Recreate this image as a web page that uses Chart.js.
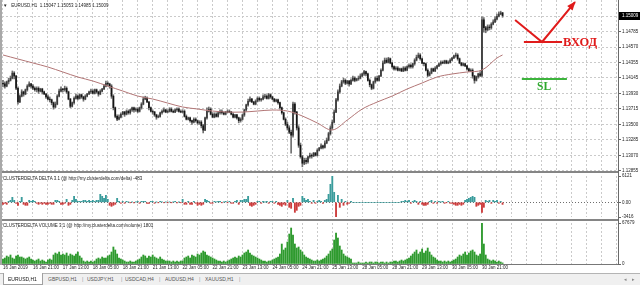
<!DOCTYPE html>
<html><head><meta charset="utf-8">
<script src="https://cdn.jsdelivr.net/npm/chart.js@4.4.1/dist/chart.umd.min.js"></script>
<style>
html,body{margin:0;padding:0;background:#fff}
body{width:640px;height:285px;position:relative;overflow:hidden;font-family:"Liberation Sans",Arial,sans-serif}
canvas{position:absolute;left:0}
.sm{position:absolute;white-space:nowrap;font-size:9px;line-height:9px;color:#222;transform:scale(0.5);transform-origin:0 0}
.sep{position:absolute;left:0;width:618px;height:2px;background:#858585}
#vline{position:absolute;left:618px;top:0;width:1px;height:265px;background:#6a6a6a}
#lline{position:absolute;left:0;top:0;width:2px;height:265px;background:#a8a8a8}
#tabs{position:absolute;left:0;top:273px;width:640px;height:12px;background:#f0f0f0;border-top:1px solid #b4b4b4;box-sizing:border-box}
#active{position:absolute;left:3px;top:273px;width:40px;height:12px;background:#fff;border:1px solid #a0a0a0;border-top:none;box-sizing:border-box}
.tab{position:absolute;top:277px;white-space:nowrap;font-size:10px;line-height:10px;color:#555;transform:scale(0.5);transform-origin:0 0}
</style></head><body>
<canvas id="cMain" width="640" height="172" style="top:0"></canvas>
<canvas id="cDelta" width="640" height="48" style="top:172px"></canvas>
<canvas id="cVol" width="640" height="53" style="top:220px"></canvas>
<div class="sep" style="top:171px"></div>
<div class="sep" style="top:219px"></div>
<div id="vline"></div>
<div id="lline"></div>
<div class="sm" style="left:3px;top:3px">▼&nbsp;&nbsp;&nbsp;EURUSD,H1&nbsp;&nbsp;1.15047 1.15053 1.14985 1.15009</div>
<div class="sm" id="lblDelta" style="left:3px;top:175.5px"></div>
<div class="sm" id="lblVol" style="left:3px;top:222.8px"></div>
<div id="tabs"></div>
<div id="active"></div>
<div id="tabText"></div>
<script>
// ---------- DATA ----------
const timeLabels = ['16 Jan 2019','16 Jan 21:00','17 Jan 13:00','18 Jan 05:00','18 Jan 21:00','21 Jan 13:00','22 Jan 05:00','22 Jan 21:00','23 Jan 13:00','24 Jan 05:00','24 Jan 21:00','25 Jan 13:00','28 Jan 05:00','28 Jan 21:00','29 Jan 13:00','30 Jan 05:00','30 Jan 21:00'];
const priceTicks = [1.12855,1.13070,1.13285,1.13500,1.13715,1.13930,1.14145,1.14355,1.14570,1.14785,1.15000];
const tabNames = ['EURUSD,H1','GBPUSD,H1','USDJPY,H1','USDCAD,H4','AUDUSD,H4','XAUUSD,H1'];

const opens = [
1.1407,1.1406,1.1403,1.1409,1.1411,1.1414,1.1421,1.1417,1.1400,1.1381,1.1389,1.1395,1.1392,1.1398,1.1403,1.1406,
1.1403,1.1400,1.1398,1.1400,1.1396,1.1399,1.1395,1.1392,1.1388,1.1385,1.1384,1.1380,1.1374,1.1378,1.1389,1.1396,
1.1399,1.1398,1.1400,1.1395,1.1385,1.1375,1.1380,1.1386,1.1389,1.1386,1.1391,1.1388,1.1385,1.1389,1.1392,1.1395,
1.1396,1.1393,1.1398,1.1395,1.1392,1.1396,1.1399,1.1403,1.1407,1.1406,1.1403,1.1389,1.1373,1.1361,1.1357,1.1360,
1.1364,1.1367,1.1364,1.1368,1.1366,1.1370,1.1373,1.1370,1.1371,1.1368,1.1373,1.1378,1.1385,1.1386,1.1381,1.1373,
1.1368,1.1367,1.1363,1.1360,1.1361,1.1366,1.1368,1.1370,1.1367,1.1368,1.1371,1.1368,1.1367,1.1370,1.1371,1.1368,
1.1367,1.1368,1.1361,1.1357,1.1359,1.1355,1.1353,1.1357,1.1355,1.1352,1.1353,1.1348,1.1342,1.1359,1.1368,1.1371,
1.1364,1.1360,1.1364,1.1361,1.1366,1.1368,1.1366,1.1364,1.1367,1.1368,1.1367,1.1364,1.1360,1.1363,1.1359,1.1355,
1.1357,1.1363,1.1370,1.1377,1.1382,1.1385,1.1381,1.1378,1.1382,1.1386,1.1384,1.1385,1.1388,1.1389,1.1386,1.1391,
1.1388,1.1385,1.1382,1.1384,1.1380,1.1373,1.1366,1.1357,1.1350,1.1345,1.1339,1.1335,1.1378,1.1367,1.1345,1.1321,
1.1305,1.1296,1.1300,1.1298,1.1305,1.1307,1.1306,1.1310,1.1307,1.1314,1.1317,1.1320,1.1318,1.1324,1.1328,1.1337,
1.1345,1.1353,1.1367,1.1384,1.1395,1.1403,1.1409,1.1411,1.1407,1.1410,1.1406,1.1411,1.1414,1.1411,1.1413,1.1414,
1.1417,1.1420,1.1423,1.1420,1.1411,1.1405,1.1400,1.1409,1.1414,1.1411,1.1417,1.1425,1.1435,1.1439,1.1436,1.1441,
1.1435,1.1430,1.1427,1.1428,1.1425,1.1427,1.1424,1.1428,1.1425,1.1430,1.1432,1.1430,1.1434,1.1439,1.1443,1.1446,
1.1441,1.1435,1.1434,1.1425,1.1418,1.1421,1.1427,1.1424,1.1428,1.1431,1.1434,1.1436,1.1435,1.1438,1.1435,1.1436,
1.1439,1.1442,1.1445,1.1446,1.1441,1.1435,1.1432,1.1434,1.1431,1.1427,1.1424,1.1425,1.1417,1.1411,1.1416,1.1420,
1.1418,1.1495,1.1484,1.1481,1.1485,1.1484,1.1489,1.1492,1.1496,1.1500,1.1503,1.15047];
const highs = [
1.1411,1.1409,1.1410,1.1414,1.1417,1.1424,1.1423,1.1418,1.1402,1.1391,1.1398,1.1396,1.1399,1.1405,1.1409,1.1407,
1.1405,1.1402,1.1402,1.1402,1.1400,1.1400,1.1396,1.1393,1.1391,1.1388,1.1385,1.1381,1.1381,1.1391,1.1399,1.1402,
1.1400,1.1403,1.1402,1.1396,1.1386,1.1381,1.1388,1.1392,1.1391,1.1392,1.1392,1.1389,1.1391,1.1393,1.1396,1.1399,
1.1398,1.1399,1.1399,1.1396,1.1398,1.1400,1.1405,1.1410,1.1409,1.1407,1.1405,1.1391,1.1374,1.1363,1.1363,1.1366,
1.1368,1.1368,1.1370,1.1370,1.1371,1.1374,1.1374,1.1373,1.1373,1.1374,1.1380,1.1388,1.1389,1.1388,1.1382,1.1374,
1.1370,1.1368,1.1364,1.1363,1.1367,1.1370,1.1373,1.1371,1.1370,1.1373,1.1373,1.1370,1.1371,1.1373,1.1373,1.1370,
1.1370,1.1370,1.1363,1.1360,1.1360,1.1356,1.1359,1.1359,1.1356,1.1355,1.1355,1.1350,1.1360,1.1373,1.1374,1.1373,
1.1366,1.1366,1.1366,1.1367,1.1370,1.1370,1.1367,1.1368,1.1370,1.1370,1.1368,1.1366,1.1364,1.1364,1.1360,1.1359,
1.1364,1.1371,1.1378,1.1385,1.1388,1.1386,1.1382,1.1384,1.1388,1.1388,1.1386,1.1391,1.1392,1.1391,1.1393,1.1392,
1.1389,1.1386,1.1385,1.1385,1.1381,1.1374,1.1367,1.1359,1.1353,1.1348,1.1342,1.1381,1.1380,1.1368,1.1348,1.1324,
1.1307,1.1303,1.1303,1.1306,1.1310,1.1309,1.1311,1.1311,1.1316,1.1318,1.1323,1.1321,1.1327,1.1331,1.1339,1.1348,
1.1356,1.1370,1.1386,1.1398,1.1406,1.1411,1.1414,1.1413,1.1411,1.1411,1.1413,1.1417,1.1416,1.1414,1.1417,1.1420,
1.1421,1.1425,1.1424,1.1421,1.1413,1.1406,1.1410,1.1416,1.1417,1.1418,1.1427,1.1438,1.1442,1.1442,1.1443,1.1442,
1.1436,1.1431,1.1430,1.1430,1.1428,1.1428,1.1430,1.1430,1.1431,1.1434,1.1434,1.1435,1.1441,1.1446,1.1449,1.1448,
1.1442,1.1436,1.1435,1.1427,1.1423,1.1428,1.1428,1.1430,1.1432,1.1435,1.1438,1.1438,1.1439,1.1439,1.1438,1.1441,
1.1443,1.1446,1.1449,1.1448,1.1442,1.1436,1.1435,1.1435,1.1432,1.1428,1.1427,1.1427,1.1418,1.1417,1.1421,1.1423,
1.1499,1.1498,1.1486,1.1488,1.1488,1.1491,1.1495,1.1499,1.1503,1.1506,1.1507,1.15053];
const lows = [
1.1402,1.1400,1.1402,1.1406,1.1410,1.1413,1.1413,1.1398,1.1378,1.1380,1.1388,1.1389,1.1391,1.1396,1.1402,1.1400,
1.1398,1.1396,1.1395,1.1393,1.1395,1.1392,1.1391,1.1386,1.1384,1.1381,1.1377,1.1371,1.1373,1.1377,1.1388,1.1395,
1.1395,1.1396,1.1393,1.1384,1.1373,1.1374,1.1378,1.1385,1.1384,1.1385,1.1386,1.1382,1.1384,1.1388,1.1391,1.1393,
1.1392,1.1392,1.1393,1.1389,1.1391,1.1395,1.1398,1.1402,1.1403,1.1400,1.1386,1.1370,1.1359,1.1355,1.1356,1.1359,
1.1363,1.1361,1.1363,1.1364,1.1364,1.1368,1.1367,1.1368,1.1366,1.1367,1.1371,1.1377,1.1384,1.1380,1.1370,1.1367,
1.1364,1.1361,1.1357,1.1359,1.1360,1.1364,1.1367,1.1366,1.1366,1.1367,1.1367,1.1366,1.1366,1.1368,1.1367,1.1366,
1.1366,1.1360,1.1356,1.1356,1.1353,1.1350,1.1352,1.1353,1.1350,1.1350,1.1345,1.1338,1.1341,1.1357,1.1367,1.1363,
1.1359,1.1359,1.1360,1.1360,1.1364,1.1364,1.1363,1.1363,1.1366,1.1366,1.1363,1.1359,1.1359,1.1357,1.1352,1.1353,
1.1356,1.1361,1.1368,1.1375,1.1381,1.1380,1.1377,1.1377,1.1381,1.1382,1.1382,1.1384,1.1386,1.1385,1.1385,1.1386,
1.1384,1.1381,1.1381,1.1378,1.1371,1.1364,1.1356,1.1348,1.1342,1.1337,1.1310,1.1332,1.1364,1.1342,1.1318,1.1303,
1.1291,1.1294,1.1295,1.1296,1.1303,1.1303,1.1305,1.1306,1.1306,1.1313,1.1316,1.1316,1.1317,1.1323,1.1327,1.1335,
1.1343,1.1352,1.1366,1.1382,1.1393,1.1402,1.1407,1.1405,1.1406,1.1403,1.1405,1.1410,1.1409,1.1410,1.1411,1.1413,
1.1416,1.1418,1.1417,1.1410,1.1402,1.1398,1.1399,1.1407,1.1410,1.1410,1.1416,1.1424,1.1434,1.1435,1.1435,1.1434,
1.1428,1.1425,1.1425,1.1424,1.1424,1.1423,1.1423,1.1424,1.1424,1.1428,1.1428,1.1428,1.1432,1.1438,1.1442,1.1439,
1.1434,1.1431,1.1424,1.1416,1.1417,1.1420,1.1423,1.1423,1.1427,1.1430,1.1432,1.1434,1.1434,1.1434,1.1434,1.1435,
1.1438,1.1441,1.1443,1.1439,1.1434,1.1431,1.1431,1.1430,1.1425,1.1423,1.1423,1.1414,1.1407,1.1410,1.1414,1.1416,
1.1416,1.1478,1.1477,1.1480,1.1481,1.1482,1.1488,1.1491,1.1495,1.1499,1.1502,1.14985];
const closes = [
1.1406,1.1403,1.1409,1.1411,1.1414,1.1421,1.1417,1.1400,1.1381,1.1389,1.1395,1.1392,1.1398,1.1403,1.1406,1.1403,
1.1400,1.1398,1.1400,1.1396,1.1399,1.1395,1.1392,1.1388,1.1385,1.1384,1.1380,1.1374,1.1378,1.1389,1.1396,1.1399,
1.1398,1.1400,1.1395,1.1385,1.1375,1.1380,1.1386,1.1389,1.1386,1.1391,1.1388,1.1385,1.1389,1.1392,1.1395,1.1396,
1.1393,1.1398,1.1395,1.1392,1.1396,1.1399,1.1403,1.1407,1.1406,1.1403,1.1389,1.1373,1.1361,1.1357,1.1360,1.1364,
1.1367,1.1364,1.1368,1.1366,1.1370,1.1373,1.1370,1.1371,1.1368,1.1373,1.1378,1.1385,1.1386,1.1381,1.1373,1.1368,
1.1367,1.1363,1.1360,1.1361,1.1366,1.1368,1.1370,1.1367,1.1368,1.1371,1.1368,1.1367,1.1370,1.1371,1.1368,1.1367,
1.1368,1.1361,1.1357,1.1359,1.1355,1.1353,1.1357,1.1355,1.1352,1.1353,1.1348,1.1342,1.1359,1.1368,1.1371,1.1364,
1.1360,1.1364,1.1361,1.1366,1.1368,1.1366,1.1364,1.1367,1.1368,1.1367,1.1364,1.1360,1.1363,1.1359,1.1355,1.1357,
1.1363,1.1370,1.1377,1.1382,1.1385,1.1381,1.1378,1.1382,1.1386,1.1384,1.1385,1.1388,1.1389,1.1386,1.1391,1.1388,
1.1385,1.1382,1.1384,1.1380,1.1373,1.1366,1.1357,1.1350,1.1345,1.1339,1.1335,1.1378,1.1367,1.1345,1.1321,1.1305,
1.1296,1.1300,1.1298,1.1305,1.1307,1.1306,1.1310,1.1307,1.1314,1.1317,1.1320,1.1318,1.1324,1.1328,1.1337,1.1345,
1.1353,1.1367,1.1384,1.1395,1.1403,1.1409,1.1411,1.1407,1.1410,1.1406,1.1411,1.1414,1.1411,1.1413,1.1414,1.1417,
1.1420,1.1423,1.1420,1.1411,1.1405,1.1400,1.1409,1.1414,1.1411,1.1417,1.1425,1.1435,1.1439,1.1436,1.1441,1.1435,
1.1430,1.1427,1.1428,1.1425,1.1427,1.1424,1.1428,1.1425,1.1430,1.1432,1.1430,1.1434,1.1439,1.1443,1.1446,1.1441,
1.1435,1.1434,1.1425,1.1418,1.1421,1.1427,1.1424,1.1428,1.1431,1.1434,1.1436,1.1435,1.1438,1.1435,1.1436,1.1439,
1.1442,1.1445,1.1446,1.1441,1.1435,1.1432,1.1434,1.1431,1.1427,1.1424,1.1425,1.1417,1.1411,1.1416,1.1420,1.1418,
1.1495,1.1484,1.1481,1.1485,1.1484,1.1489,1.1492,1.1496,1.1500,1.1503,1.15047,1.15009];

const maIndex = [0,8,16,24,32,40,48,56,64,72,80,88,96,104,112,120,128,136,144,152,160,168,176,184,192,200,208,216,224,232,240,248,256,264,267];
const maValues = [1.14462,1.14406,1.14351,1.14295,1.14226,1.14156,1.14101,1.14031,1.13962,1.13892,1.13851,1.13795,1.13740,1.13712,1.13684,1.13670,1.13670,1.13684,1.13698,1.13684,1.13615,1.13518,1.13421,1.13559,1.13712,1.13809,1.13892,1.13990,1.14073,1.14156,1.14198,1.14226,1.14253,1.14420,1.14462];

const delta = [
-466,-233,-466,233,466,1165,466,-233,-699,233,1165,-466,-699,-699,466,233,
466,233,-233,-466,-233,-466,-233,-466,-466,-233,-466,-466,466,466,233,-466,
-466,-233,699,-699,-466,466,1398,699,233,233,233,466,466,233,466,233,
466,233,466,466,1864,1398,932,1631,699,-699,-932,-699,-466,932,233,-233,
233,-233,233,60,-50,80,-40,50,233,-233,233,233,233,-233,-233,233,
233,-233,50,-50,233,80,-60,40,-40,60,-30,50,233,-50,40,-40,
699,-466,-466,233,-466,-466,233,-233,-699,-466,-699,-466,699,466,233,-233,
-233,233,60,233,233,-50,40,233,-60,233,-233,-233,233,466,-466,466,
466,699,699,1398,-699,-932,-699,-466,233,233,-233,233,50,233,-233,233,
233,-233,233,-466,-699,-932,-466,-699,466,-1165,-1398,932,-2330,-1864,-932,-699,
1398,932,466,699,233,-233,466,-233,233,466,233,-233,466,699,1864,4194,
6121,2330,-3416,1631,-1165,699,-699,233,-466,-233,233,0,0,0,0,0,
0,0,0,0,0,0,0,0,0,0,0,0,0,0,0,0,
0,0,0,0,0,233,233,466,233,466,-233,233,466,233,-466,233,
-466,-699,-699,-466,233,466,-233,233,-233,233,50,233,-233,-50,233,-233,
-233,-466,-699,-699,-466,-699,-466,466,699,932,1165,1398,1165,-932,-699,-466,
-2330,-1165,466,233,466,-233,466,233,466,-233,233,-483];

const volume = [
8250,9900,13200,11550,14850,9900,8250,13200,14850,11550,11550,9900,8250,9900,11550,8250,
6600,4950,6600,8250,4950,6600,4950,3300,6600,8250,6600,14850,18150,16500,19800,14850,
16500,14850,18150,13200,16500,14850,13200,16500,19800,13200,9900,4950,3300,4950,3300,4950,
3300,4950,8250,9900,8250,11550,9900,9900,13200,14850,19800,28050,23100,16500,9900,8250,
6600,4950,3300,3300,4950,3300,3300,4950,6600,8250,11550,14850,13200,9900,13200,11550,
14850,11550,9900,8250,11550,8250,6600,4950,4950,4950,3300,4950,3300,4950,3300,4950,
4950,9900,11550,13200,9900,14850,13200,11550,16500,14850,18150,21450,19800,14850,13200,11550,
9900,8250,6600,4950,4950,3300,4950,3300,4950,6600,8250,9900,11550,9900,13200,11550,
14850,18150,19800,23100,18150,14850,13200,11550,9900,8250,6600,4950,4950,3300,4950,4950,
6600,8250,9900,11550,16500,33000,23100,26400,36300,49500,59400,47850,33000,26400,28050,23100,
19800,14850,11550,9900,8250,6600,4950,4950,6600,4950,6600,8250,9900,13200,16500,21450,
24750,39600,51150,42900,29700,23100,16500,13200,11550,9900,8250,1650,1650,1650,3300,1650,
1650,1650,3300,1650,3300,3300,1650,3300,3300,1650,3300,3300,1650,3300,1650,3300,
3300,4950,4950,3300,4950,6600,4950,6600,8250,9900,13200,16500,19800,23100,16500,19800,
24750,18150,21450,26400,19800,14850,11550,9900,6600,4950,4950,3300,4950,3300,4950,3300,
4950,6600,8250,11550,14850,13200,16500,19800,14850,18150,21450,23100,19800,14850,13200,16500,
67679,33000,14850,8250,6600,4950,6600,4950,3300,4950,3300,1801];

// annotations (bar index, price)
const entryArrow = [[273.7,1.14947],[288.1,1.14642],[305.7,1.15197]];
const entryLevel = [[278.4,1.14642],[298.8,1.14642]];
const slLevel = [[277.3,1.14128],[301.4,1.14128]];
const entryText = [299.3,1.14642,'ВХОД'];
const slText = [285.4,1.14024,'SL'];

// ---------- LAYOUT ----------
const X_MIN = -0.534, X_MAX = 328.7;
const Y_MIN = 1.12838, Y_MAX = 1.15225;
const FONT = '"Liberation Sans", Arial, sans-serif';
Chart.defaults.font.family = FONT;
Chart.defaults.font.size = 4.5;
Chart.defaults.color = '#222';

document.getElementById('lblDelta').textContent = 'CLUSTERDELTA DELTA 3.1 (@ http://my.clusterdelta.com/delta) ' + delta[delta.length-1];
document.getElementById('lblVol').textContent = 'CLUSTERDELTA VOLUME 3.1 (@ http://my.clusterdelta.com/volume) ' + volume[volume.length-1];

// tabs
const tabHolder = document.getElementById('tabText');
const tabLeft = [8,48,87,125,165,205];
tabNames.forEach((n,k)=>{
  const s = document.createElement('div'); s.className='tab'; s.textContent=n;
  s.style.left = tabLeft[k]+'px'; if(k===0) s.style.color='#111';
  tabHolder.appendChild(s);
  if(k>0){ const b=document.createElement('div'); b.className='tab'; b.textContent='|'; b.style.color='#999'; b.style.left=(tabLeft[k]+34)+'px'; tabHolder.appendChild(b);}
});
['◂','▸'].forEach((c,k)=>{const s=document.createElement('div'); s.className='tab'; s.textContent=c; s.style.color='#888'; s.style.left=(624+k*8)+'px'; tabHolder.appendChild(s);});

const gridIdx = []; for(let v=0; v<=X_MAX; v+=8) gridIdx.push(v);

function xScale(showLabels){
  return {
    type:'linear', min:X_MIN, max:X_MAX, offset:false, bounds:'data',
    afterBuildTicks: s => { s.ticks = gridIdx.map(v=>({value:v})); },
    ticks:{display:showLabels, autoSkip:false, maxRotation:0, minRotation:0, align:'start', padding:1.5,
      font:{size:4.5}, color:'#222',
      callback:(v)=>{ const r=Math.round(v); return (r%16===0 && timeLabels[r/16]) ? timeLabels[r/16] : ''; }},
    grid:{color:'#cacaca', lineWidth:1, drawTicks:false, offset:false},
    border:{display:showLabels, color:'#777', dash:[2,2]},
    afterFit: s => { s.height = showLabels ? 9 : 0; s.paddingLeft=0; s.paddingRight=0; }
  };
}
function yFit(s){ s.width = 22; s.paddingTop=0; s.paddingBottom=0; }

const common = {responsive:false, animation:false, devicePixelRatio:1, events:[],
  plugins:{legend:{display:false}, tooltip:{enabled:false}}};

// overlay plugin: current price box + trade annotations
const overlay = {
  id:'overlay',
  afterDraw(chart){
    const {ctx, chartArea, scales:{x, y}} = chart;
    const P = p => [x.getPixelForValue(p[0]), y.getPixelForValue(p[1])];
    ctx.save();
    const last = closes[closes.length-1];
    const cy = y.getPixelForValue(last);
    ctx.fillStyle = '#000';
    ctx.fillRect(chartArea.right+1, Math.round(cy)-4, chart.width-chartArea.right-1, 8);
    ctx.fillStyle = '#fff'; ctx.font = '4.5px '+FONT; ctx.textBaseline='middle'; ctx.textAlign='left';
    ctx.fillText(last.toFixed(5), chartArea.right+4, cy);

    const red = '#e01b1b';
    ctx.strokeStyle = red; ctx.lineWidth = 2; ctx.lineJoin = 'miter';
    ctx.beginPath();
    entryArrow.forEach((p,k)=>{ const [a,b]=P(p); k?ctx.lineTo(a,b):ctx.moveTo(a,b); });
    ctx.stroke();
    const [tx,ty] = P(entryArrow[2]), [bx,by] = P(entryArrow[1]);
    const ang = Math.atan2(ty-by, tx-bx), L=8, W=3.5;
    ctx.fillStyle = red; ctx.beginPath(); ctx.moveTo(tx+Math.cos(ang)*1, ty+Math.sin(ang)*1);
    ctx.lineTo(tx-L*Math.cos(ang)+W*Math.sin(ang), ty-L*Math.sin(ang)-W*Math.cos(ang));
    ctx.lineTo(tx-L*Math.cos(ang)-W*Math.sin(ang), ty-L*Math.sin(ang)+W*Math.cos(ang));
    ctx.closePath(); ctx.fill();
    ctx.beginPath(); { const [a,b]=P(entryLevel[0]), [c,d]=P(entryLevel[1]); ctx.moveTo(a,b); ctx.lineTo(c,d);} ctx.stroke();
    ctx.font = 'bold 12.5px "Liberation Serif", "DejaVu Serif", serif';
    { const [a,b]=P(entryText); ctx.fillText(entryText[2], a, b+0.5); }

    const green = '#3cb43c';
    ctx.strokeStyle = green; ctx.fillStyle = '#2ea82e';
    ctx.beginPath(); { const [a,b]=P(slLevel[0]), [c,d]=P(slLevel[1]); ctx.moveTo(a,b); ctx.lineTo(c,d);} ctx.stroke();
    ctx.font = 'bold 11.5px "Liberation Serif", "DejaVu Serif", serif';
    { const [a,b]=P(slText); ctx.fillText(slText[2], a, b); }
    ctx.restore();
  }
};

// ---------- MAIN PRICE CHART ----------
new Chart(document.getElementById('cMain'), {
  type:'bar',
  data:{datasets:[
    {type:'line', data:maIndex.map((v,k)=>({x:v, y:maValues[k]})), borderColor:'#b27676', borderWidth:1,
     pointRadius:0, tension:0.35, order:0},
    {type:'bar', data:opens.map((o,i)=>({x:i, y:[Math.min(o,closes[i]), Math.max(o,closes[i])]})),
     backgroundColor:opens.map((o,i)=> closes[i]>=o ? '#3a3a3a' : '#151515'), barThickness:1, grouped:false, order:1},
    {type:'bar', data:lows.map((l,i)=>({x:i, y:[l, highs[i]]})), backgroundColor:'#707070', barThickness:1, grouped:false, order:2}
  ]},
  options:{...common,
    layout:{padding:{left:2, right:0, top:0, bottom:0}},
    scales:{
      x:xScale(false),
      y:{position:'right', min:Y_MIN, max:Y_MAX, bounds:'data', beginAtZero:false,
        afterBuildTicks: s => { s.ticks = priceTicks.map(v=>({value:v})); },
        ticks:{padding:1, color:'#222', font:{size:4.5}, callback:v=>Number(v).toFixed(5)},
        grid:{color:'#cacaca', tickColor:'#666', tickLength:3, drawTicks:true},
        border:{display:false, dash:[2,2]},
        afterFit:yFit}
    }},
  plugins:[overlay]
});

// ---------- DELTA PANEL ----------
new Chart(document.getElementById('cDelta'), {
  type:'bar',
  data:{datasets:[{data:delta.map((v,i)=>({x:i, y:v})), backgroundColor:delta.map(v=> v>=0 ? '#3a9c9c' : '#cc3b3b'),
    barThickness:1.2, grouped:false}]},
  options:{...common,
    layout:{padding:{left:2, right:0, top:4, bottom:3}},
    scales:{
      x:xScale(false),
      y:{position:'right', min:Math.min(...delta), max:Math.max(...delta), bounds:'data', beginAtZero:false,
        afterBuildTicks: s => { s.ticks = [Math.min(...delta), 0, Math.max(...delta)].map(v=>({value:v})); },
        ticks:{padding:1, color:'#222', font:{size:4.5}, callback:v=> v===0 ? '0.00' : String(v)},
        grid:{color:c=> (c.tick && c.tick.value===0) ? '#6e6e6e' : 'rgba(0,0,0,0)', tickColor:'#666', tickLength:3, drawTicks:true},
        border:{display:false, dash:[1,2]},
        afterFit:yFit}
    }}
});

// ---------- VOLUME PANEL ----------
new Chart(document.getElementById('cVol'), {
  type:'bar',
  data:{datasets:[{data:volume.map((v,i)=>({x:i, y:v})), backgroundColor:'#2e9a2e', barThickness:1.2, grouped:false}]},
  options:{...common,
    layout:{padding:{left:2, right:0, top:3, bottom:0}},
    scales:{
      x:xScale(true),
      y:{position:'right', min:0, max:Math.max(...volume), bounds:'data',
        afterBuildTicks: s => { s.ticks = [0, Math.max(...volume)].map(v=>({value:v})); },
        ticks:{padding:1, color:'#222', font:{size:4.5}, callback:v=>String(v)},
        grid:{color:'rgba(0,0,0,0)', tickColor:'#666', tickLength:3, drawTicks:true},
        border:{display:false},
        afterFit:yFit}
    }}
});
</script>
</body></html>
